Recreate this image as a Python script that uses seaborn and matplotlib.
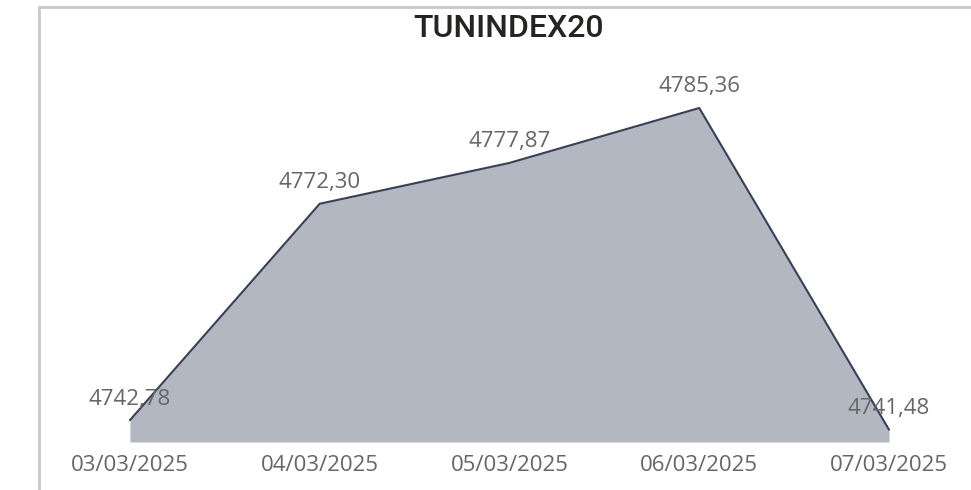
import pandas as pd
import matplotlib.pyplot as plt
import seaborn as sns

# Data
dates = ['03/03/2025', '04/03/2025', '05/03/2025', '06/03/2025', '07/03/2025']
values = [4742.78, 4772.30, 4777.87, 4785.36, 4741.48]
labels = ['4742,78', '4772,30', '4777,87', '4785,36', '4741,48']

sns.set_style('white')
plt.rcParams['font.family'] = ['Open Sans', 'DejaVu Sans']

df = pd.DataFrame({'pos': range(len(dates)), 'date': dates, 'value': values})

W, H = 971, 490
fig = plt.figure(figsize=(W / 100, H / 100), dpi=100)

# axes box in pixels: left 40, right 971, top 8, bottom 442
ax = fig.add_axes([40 / W, (H - 442) / H, (971 - 40) / W, (442 - 8) / H])

fill_color = '#b3b7c1'
line_color = '#374056'
text_color = '#666666'

ymin = 4739.8
ax.fill_between(df['pos'], df['value'], ymin, color=fill_color, linewidth=0)
sns.lineplot(data=df, x='pos', y='value', ax=ax, color=line_color, linewidth=1.5)

for x, y, lab in zip(df['pos'], df['value'], labels):
    ax.annotate(lab, (x, y), xytext=(0, 21), textcoords='offset pixels',
                ha='center', va='center', fontsize=16, color=text_color)

ax.set_xlim(-0.474, 4.432)
ax.set_ylim(ymin, 4799.0)
ax.set_xticks(df['pos'])
ax.set_xticklabels(dates, fontsize=16, color=text_color)
ax.tick_params(axis='x', length=0, pad=9)
ax.set_yticks([])
ax.set_xlabel('')
ax.set_ylabel('')
for s in ax.spines.values():
    s.set_visible(False)

# chart border (top and left only visible)
fig.add_artist(plt.Line2D([38.5 / W, 1], [1 - 7.5 / H, 1 - 7.5 / H], color='#c8c8c8', linewidth=2))
fig.add_artist(plt.Line2D([38.5 / W, 38.5 / W], [0, 1 - 7.5 / H], color='#c8c8c8', linewidth=2))

fig.text(508 / W, 1 - 28.5 / H, 'TUNINDEX20', ha='center', va='center',
         fontsize=23, fontweight='medium', color='#252423', family=['Roboto', 'DejaVu Sans'])

fig.savefig('out.png', dpi=100)
plt.close(fig)
